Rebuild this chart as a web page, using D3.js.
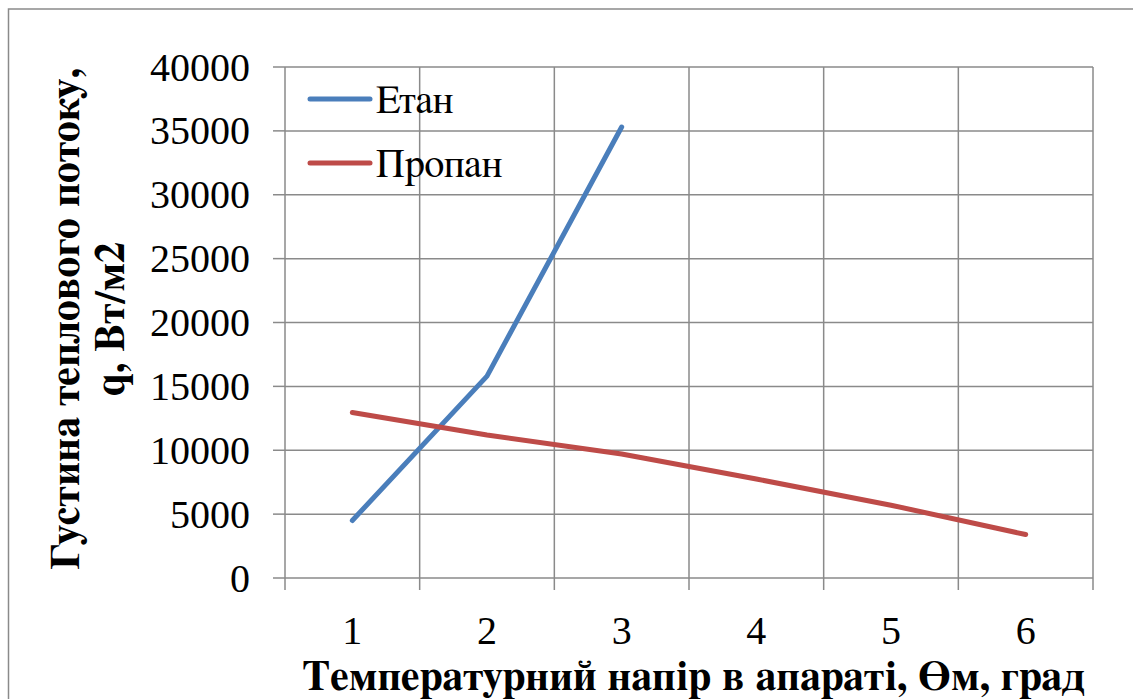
<!DOCTYPE html>
<html lang="uk">
<head>
<meta charset="utf-8">
<script src="https://cdn.jsdelivr.net/npm/d3@7"></script>
</head>
<body style="margin:0">
<script>
// Heat flux density vs. temperature head, ethane and propane
const categories = ["1", "2", "3", "4", "5", "6"];
const ethane = [4500, 15800, 35300];
const propane = [12950, 11200, 9700, 7750, 5700, 3400];
const yTicks = [0, 5000, 10000, 15000, 20000, 25000, 30000, 35000, 40000];
const seriesNames = ["Етан", "Пропан"];
const seriesColors = ["#4A7EBB", "#BE4B48"];
const xTitle = "Температурний напір в апараті, Өм, град";
const yTitleLines = ["Густина теплового потоку,", "q, Вт/м2"];

const W = 1133, H = 699;
const plot = { left: 285, right: 1093, top: 67, bottom: 578 };
const gridColor = "#8a8a8a";
const numberFont = '"Liberation Serif", Tinos, serif';
const wordFont = 'FreeSerif, "Liberation Serif", Tinos, serif';

const svg = d3.select("body").append("svg")
  .attr("width", W).attr("height", H)
  .style("display", "block");

function label(parent, family) {
  return parent.append("text").style("font-family", family).attr("fill", "#000");
}

// chart frame
svg.append("rect")
  .attr("x", 8.5).attr("y", 9)
  .attr("width", W + 20).attr("height", H + 20)
  .attr("fill", "#fff").attr("stroke", gridColor).attr("stroke-width", 1.5);

const x = d3.scaleBand().domain(categories).range([plot.left, plot.right]).padding(0);
const y = d3.scaleLinear().domain([0, 40000]).range([plot.bottom, plot.top]);

// horizontal gridlines
svg.append("g").selectAll("line").data(yTicks).join("line")
  .attr("x1", plot.left).attr("x2", plot.right)
  .attr("y1", d => y(d)).attr("y2", d => y(d))
  .attr("stroke", gridColor).attr("stroke-width", 1.5);

// vertical gridlines on category boundaries, with tick stubs below the axis
const bounds = categories.map(c => x(c)).concat([x(categories[categories.length - 1]) + x.bandwidth()]);
svg.append("g").selectAll("line").data(bounds).join("line")
  .attr("x1", d => d).attr("x2", d => d)
  .attr("y1", plot.top).attr("y2", plot.bottom + 12)
  .attr("stroke", gridColor).attr("stroke-width", 1.5);

// y tick stubs
svg.append("g").selectAll("line").data(yTicks).join("line")
  .attr("x1", plot.left - 12).attr("x2", plot.left)
  .attr("y1", d => y(d)).attr("y2", d => y(d))
  .attr("stroke", gridColor).attr("stroke-width", 1.5);

// legend
const legend = svg.append("g");
seriesNames.forEach((name, i) => {
  const ly = 99 + i * 64;
  legend.append("line")
    .attr("x1", 310).attr("x2", 370).attr("y1", ly).attr("y2", ly)
    .attr("stroke", seriesColors[i]).attr("stroke-width", 5).attr("stroke-linecap", "round");
  label(legend, wordFont)
    .attr("x", 376).attr("y", ly + 13.5)
    .attr("font-size", 40)
    .text(name);
});

// axis titles
const xt = label(svg, wordFont)
  .attr("x", 694).attr("y", 690)
  .attr("text-anchor", "middle").attr("font-size", 40).attr("font-weight", "bold")
  .text(xTitle);

const yTitle = svg.append("g").attr("transform", "translate(79,319) rotate(-90)");
const yl1 = label(yTitle, wordFont).attr("text-anchor", "middle")
  .attr("font-size", 40).attr("font-weight", "bold").text(yTitleLines[0]);
const yl2 = label(yTitle, wordFont).attr("y", 45).attr("text-anchor", "middle")
  .attr("font-size", 40).attr("font-weight", "bold").text(yTitleLines[1]);

// y tick labels
const yLab = svg.append("g");
yTicks.forEach(t => {
  label(yLab, numberFont).attr("x", 250).attr("y", y(t) + 13.5)
    .attr("text-anchor", "end").attr("font-size", 40).text(t);
});

// x tick labels
const xLab = svg.append("g");
categories.forEach(c => {
  label(xLab, numberFont).attr("x", x(c) + x.bandwidth() / 2).attr("y", 644)
    .attr("text-anchor", "middle").attr("font-size", 40).text(c);
});

// series lines
const line = d3.line()
  .x((d, i) => x(categories[i]) + x.bandwidth() / 2)
  .y(d => y(d));

[ethane, propane].forEach((vals, i) => {
  svg.append("path").datum(vals)
    .attr("d", line)
    .attr("fill", "none")
    .attr("stroke", seriesColors[i]).attr("stroke-width", 5)
    .attr("stroke-linecap", "round").attr("stroke-linejoin", "round");
});

// size the titles to their spans once layout is available
function fitWidth(sel, target) {
  const w = sel.node().getComputedTextLength();
  if (w > 0) sel.attr("font-size", +sel.attr("font-size") * target / w);
}
fitWidth(xt, 782);
fitWidth(yl1, 502);
yl2.attr("font-size", yl1.attr("font-size"));
</script>
</body>
</html>
